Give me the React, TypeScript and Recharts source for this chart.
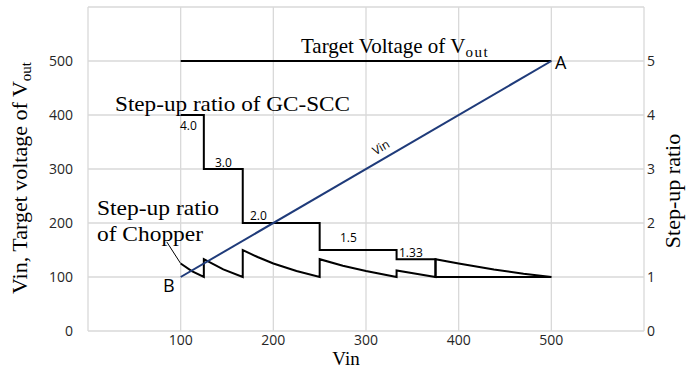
import { LineChart, Line, XAxis, YAxis, CartesianGrid, ReferenceLine } from "recharts";

// values
const xTicks = [0, 100, 200, 300, 400, 500, 600];
const voltTicks = [0, 100, 200, 300, 400, 500, 600];
const ratioTicks = [0, 1, 2, 3, 4, 5, 6];

const targetVin = [100, 500];
const targetVout = [500, 500];

const vinX = [100, 500];
const vinY = [100, 500];

const gcVin = [100, 125, 167, 250, 333, 375, 500];
const gcRatio = [4.0, 3.0, 2.0, 1.5, 1.33, 1.0, 1.0];

const chopVin = [
  100, 112, 125, 125, 146, 167, 167, 183, 200, 225, 250, 250, 275, 300, 333, 333, 354, 375, 375, 400, 438,
  470, 500,
];
const chopRatio = [
  1.25, 1.11, 1.0, 1.33, 1.14, 1.0, 1.5, 1.37, 1.25, 1.11, 1.0, 1.33, 1.21, 1.11, 1.0, 1.12, 1.06, 1.0,
  1.33, 1.25, 1.14, 1.06, 1.0,
];

const ratioLabels = ["4.0", "3.0", "2.0", "1.5", "1.33"];

const zip = (xs: number[], ys: number[]) => xs.map((x, i) => ({ x, y: ys[i] }));

const targetData = zip(targetVin, targetVout);
const vinData = zip(vinX, vinY);
const gcData = zip(gcVin, gcRatio);
const chopData = zip(chopVin, chopRatio);

const serif = '"Liberation Serif", "Times New Roman", serif';
const sans = '"Open Sans", "Noto Sans", sans-serif';
const tickStyle = { fontFamily: sans, fontSize: 14, fill: "#262626" };

// small label positions next to the GC-SCC steps (px)
const labelPos = [
  [180, 130],
  [215, 167],
  [250, 220],
  [340, 242],
  [399, 257],
];

export default function App() {
  return (
    <div style={{ position: "absolute", left: 0, top: 0, width: 687, height: 371, background: "#fff" }}>
      <LineChart width={687} height={371} margin={{ top: 7, right: 13, left: 28, bottom: 10 }}>
        <CartesianGrid yAxisId="left" stroke="#d9d9d9" strokeWidth={1.3} />
        <XAxis
          dataKey="x"
          type="number"
          domain={[0, 600]}
          ticks={xTicks}
          axisLine={false}
          tickLine={false}
          tickSize={0}
          tickMargin={4}
          height={30}
          tick={tickStyle}
          tickFormatter={(v: number) => (v === 0 || v === 600 ? "" : String(v))}
          allowDuplicatedCategory={false}
        />
        <YAxis
          yAxisId="left"
          domain={[0, 600]}
          ticks={voltTicks}
          axisLine={false}
          tickLine={false}
          tickSize={0}
          tickMargin={15}
          width={60}
          tick={tickStyle}
          tickFormatter={(v: number) => (v === 600 ? "" : String(v))}
        />
        <YAxis
          yAxisId="right"
          orientation="right"
          domain={[0, 6]}
          ticks={ratioTicks}
          axisLine={false}
          tickLine={false}
          tickSize={0}
          tickMargin={3}
          width={30}
          tick={tickStyle}
          tickFormatter={(v: number) => (v === 6 ? "" : String(v))}
        />
        <ReferenceLine
          yAxisId="right"
          segment={[
            { x: 85, y: 1.65 },
            { x: 100, y: 1.25 },
          ]}
          stroke="#000"
          strokeWidth={1}
        />
        <Line
          yAxisId="left"
          data={targetData}
          dataKey="y"
          stroke="#000"
          strokeWidth={2}
          dot={false}
          isAnimationActive={false}
        />
        <Line
          yAxisId="right"
          data={gcData}
          dataKey="y"
          type="stepAfter"
          stroke="#000"
          strokeWidth={2}
          dot={false}
          isAnimationActive={false}
        />
        <Line
          yAxisId="right"
          data={chopData}
          dataKey="y"
          stroke="#000"
          strokeWidth={2}
          dot={false}
          isAnimationActive={false}
        />
        <Line
          yAxisId="left"
          data={vinData}
          dataKey="y"
          stroke="#1f3b7a"
          strokeWidth={2}
          dot={false}
          isAnimationActive={false}
        />
      </LineChart>

      <svg
        width={687}
        height={371}
        style={{ position: "absolute", left: 0, top: 0, pointerEvents: "none" }}
      >
        <text x={301} y={52.5} fontFamily={serif} fontSize={21} fill="#000">
          Target Voltage of V
          <tspan fontSize={15} dy={4} letterSpacing={1.5}>
            out
          </tspan>
        </text>
        <text x={115} y={111} fontFamily={serif} fontSize={21} fill="#000" textLength={235} lengthAdjust="spacingAndGlyphs">
          Step-up ratio of GC-SCC
        </text>
        <text x={97} y={215} fontFamily={serif} fontSize={21} fill="#000" textLength={122} lengthAdjust="spacingAndGlyphs">
          Step-up ratio
        </text>
        <text x={97} y={240.5} fontFamily={serif} fontSize={21} fill="#000" textLength={106} lengthAdjust="spacingAndGlyphs">
          of Chopper
        </text>
        <text x={555} y={68.5} fontFamily={sans} fontSize={18} fill="#000">
          A
        </text>
        <text x={163} y={291.5} fontFamily={sans} fontSize={18} fill="#000">
          B
        </text>
        {ratioLabels.map((t, i) => (
          <text key={t} x={labelPos[i][0]} y={labelPos[i][1]} fontFamily={sans} fontSize={12} fill="#000">
            {t}
          </text>
        ))}
        <text
          x={383}
          y={151}
          fontFamily={sans}
          fontSize={12}
          fill="#000"
          textAnchor="middle"
          transform="rotate(-30 383 151)"
        >
          Vin
        </text>
        <text x={346} y={365} fontFamily={serif} fontSize={19} fill="#000" textAnchor="middle">
          Vin
        </text>
        <text
          x={0}
          y={0}
          fontFamily={serif}
          fontSize={22}
          fill="#000"
          textAnchor="middle"
          transform="translate(27 178) rotate(-90)"
        >
          Vin, Target voltage of V
          <tspan fontSize={15} dy={4}>
            out
          </tspan>
        </text>
        <text
          x={0}
          y={0}
          fontFamily={serif}
          fontSize={22}
          fill="#000"
          textAnchor="middle"
          transform="translate(680 191) rotate(-90)"
        >
          Step-up ratio
        </text>
      </svg>
    </div>
  );
}
